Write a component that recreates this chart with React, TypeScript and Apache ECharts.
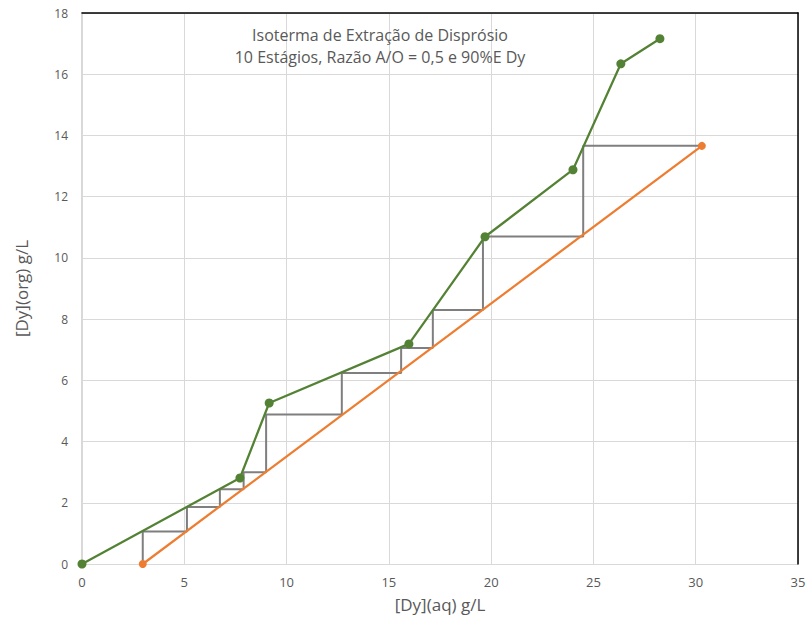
import React, { useEffect, useRef } from "react";
import * as echarts from "echarts";

const titleLines = ["Isoterma de Extração de Disprósio", "10 Estágios, Razão A/O = 0,5 e 90%E Dy"];
const xAxisName = "[Dy](aq) g/L";
const yAxisName = "[Dy](org) g/L";

// Equilibrium isotherm (green)
const eqX = [0, 7.72, 9.15, 15.98, 19.7, 24.0, 26.34, 28.25];
const eqY = [0, 2.81, 5.26, 7.19, 10.69, 12.88, 16.34, 17.16];

// Operating line (orange)
const opX = [2.97, 30.3];
const opY = [0, 13.66];

// McCabe-Thiele stages (grey)
const stepX = [30.3, 24.5, 24.5, 19.6, 19.6, 17.15, 17.15, 15.6, 15.6, 12.7, 12.7, 9.0, 9.0, 7.9, 7.9, 6.74, 6.74, 5.13, 5.13, 2.97, 2.97];
const stepY = [13.66, 13.66, 10.7, 10.7, 8.3, 8.3, 7.06, 7.06, 6.24, 6.24, 4.88, 4.88, 3.0, 3.0, 2.44, 2.44, 1.86, 1.86, 1.06, 1.06, 0];

const zip = (a: number[], b: number[]) => a.map((v, i) => [v, b[i]]);

export default function App() {
  const ref = useRef<HTMLDivElement>(null);
  useEffect(() => {
    if (!ref.current) return;
    const chart = echarts.init(ref.current, null, { renderer: "svg" });
    const font = "'Open Sans', 'Noto Sans', sans-serif";
    chart.setOption({
      animation: false,
      backgroundColor: "#ffffff",
      textStyle: { fontFamily: font },
      title: {
        text: titleLines.join("\n"),
        left: 375,
        top: 19,
        textAlign: "center",
        textStyle: { fontSize: 16, fontWeight: "normal", color: "#595959", lineHeight: 22, fontFamily: font },
      },
      grid: { left: 82, right: 14, top: 13, bottom: 61 },
      xAxis: [
        {
          type: "value",
          min: 0,
          max: 35,
          interval: 5,
          name: xAxisName,
          nameLocation: "middle",
          nameGap: 32,
          nameTextStyle: { fontSize: 17, color: "#595959", fontFamily: font },
          axisLine: { show: false },
          axisTick: { show: false },
          axisLabel: { color: "#595959", fontSize: 13, margin: 11 },
          splitLine: { lineStyle: { color: "#d9d9d9", width: 1 } },
        },
        {
          type: "value",
          position: "top",
          min: 0,
          max: 35,
          axisLine: { show: true, onZero: false, lineStyle: { color: "#000000", width: 1.5 } },
          axisTick: { show: false },
          axisLabel: { show: false },
          splitLine: { show: false },
        },
      ],
      yAxis: [
        {
          type: "value",
          min: 0,
          max: 18,
          interval: 2,
          name: yAxisName,
          nameLocation: "middle",
          nameGap: 52,
          nameTextStyle: { fontSize: 17, color: "#595959", fontFamily: font },
          axisLine: { show: true, onZero: false, lineStyle: { color: "#d9d9d9", width: 2 } },
          axisTick: { show: false },
          axisLabel: { color: "#595959", fontSize: 12, margin: 14 },
          splitLine: { lineStyle: { color: "#d9d9d9", width: 1 } },
        },
        {
          type: "value",
          position: "right",
          min: 0,
          max: 18,
          axisLine: { show: true, onZero: false, lineStyle: { color: "#000000", width: 1.5 } },
          axisTick: { show: false },
          axisLabel: { show: false },
          splitLine: { show: false },
        },
      ],
      series: [
        {
          type: "line",
          data: zip(stepX, stepY),
          symbol: "none",
          lineStyle: { color: "#7f7f7f", width: 2 },
          z: 2,
        },
        {
          type: "line",
          data: zip(opX, opY),
          symbol: "circle",
          symbolSize: 8,
          itemStyle: { color: "#ed7d31" },
          lineStyle: { color: "#ed7d31", width: 2.25 },
          z: 3,
        },
        {
          type: "line",
          data: zip(eqX, eqY),
          symbol: "circle",
          symbolSize: 9,
          itemStyle: { color: "#548235" },
          lineStyle: { color: "#548235", width: 2.25 },
          z: 4,
        },
      ],
    });
    return () => chart.dispose();
  }, []);
  return <div ref={ref} style={{ width: 812, height: 625, position: "absolute", left: 0, top: 0 }} />;
}
